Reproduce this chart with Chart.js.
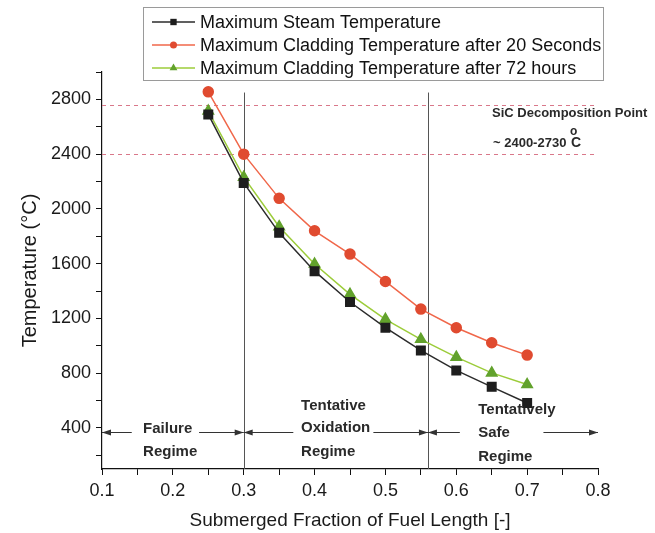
<!DOCTYPE html>
<html>
<head>
<meta charset="utf-8">
<title>Temperature vs submerged fraction</title>
<script src="https://cdn.jsdelivr.net/npm/chart.js@4.4.1/dist/chart.umd.min.js"></script>
<style>
  html, body { margin: 0; padding: 0; background: #fff; }
  #wrap { width: 655px; height: 533px; }
</style>
</head>
<body>
<div id="wrap"><canvas id="myChart" width="655" height="533"></canvas></div>
<script>
// submerged fraction of fuel length (x) and temperatures in degC
var fraction   = [0.25, 0.30, 0.35, 0.40, 0.45, 0.50, 0.55, 0.60, 0.65, 0.70];
var steamTemp  = [2690, 2190, 1825, 1545, 1320, 1132, 966, 820, 700, 582];
var clad20s    = [2855, 2400, 2077, 1840, 1670, 1470, 1268, 1132, 1022, 932];
var clad72h    = [2715, 2232, 1870, 1597, 1376, 1193, 1047, 917, 802, 717];

var seriesNames = [
    "Maximum Steam Temperature",
    "Maximum Cladding Temperature after 20 Seconds",
    "Maximum Cladding Temperature after 72 hours"
];

// axis ticks (labelled ones), minor ticks sit half way between
var xTickLabels = [0.1, 0.2, 0.3, 0.4, 0.5, 0.6, 0.7, 0.8];
var yTickLabels = [400, 800, 1200, 1600, 2000, 2400, 2800];

// SiC decomposition band and regime boundaries
var sicLimits    = [2400, 2760];
var regimeBounds = [0.30, 0.56];
var regimeTop    = 2850;
var arrowLevel   = 370;
// [from, to, which end has the head]
var arrowSpans = [
    [0.100, 0.142, "left"],
    [0.237, 0.300, "right"],
    [0.300, 0.370, "left"],
    [0.483, 0.560, "right"],
    [0.560, 0.605, "left"],
    [0.723, 0.800, "right"]
];
var regimeText = [
    { x: 0.158, lines: [["Failure", 429], ["Regime", 452]] },
    { x: 0.381, lines: [["Tentative", 406], ["Oxidation", 428], ["Regime", 452]] },
    { x: 0.631, lines: [["Tentatively", 410], ["Safe", 433], ["Regime", 457]] }
];

var FONT = "'Liberation Sans', Arial, sans-serif";

var annotations = {
    id: 'annotations',
    beforeDatasetsDraw: function(chart) {
        var ctx = chart.ctx;
        var xs = chart.scales.x, ys = chart.scales.y;
        ctx.save();

        // SiC limits
        ctx.strokeStyle = '#d9788a';
        ctx.lineWidth = 1;
        ctx.setLineDash([4, 4]);
        sicLimits.forEach(function(v) {
            var y = Math.round(ys.getPixelForValue(v)) + 0.5;
            ctx.beginPath();
            ctx.moveTo(xs.getPixelForValue(0.1), y);
            ctx.lineTo(xs.getPixelForValue(0.8), y);
            ctx.stroke();
        });
        ctx.setLineDash([]);

        // regime boundaries
        ctx.strokeStyle = '#555';
        regimeBounds.forEach(function(v) {
            var x = Math.round(xs.getPixelForValue(v)) + 0.5;
            ctx.beginPath();
            ctx.moveTo(x, ys.getPixelForValue(regimeTop));
            ctx.lineTo(x, ys.bottom);
            ctx.stroke();
        });

        // arrows
        ctx.strokeStyle = '#333';
        ctx.fillStyle = '#333';
        var ay = Math.round(ys.getPixelForValue(arrowLevel)) + 0.5;
        arrowSpans.forEach(function(a) {
            var x1 = xs.getPixelForValue(a[0]), x2 = xs.getPixelForValue(a[1]);
            ctx.beginPath();
            ctx.moveTo(x1, ay);
            ctx.lineTo(x2, ay);
            ctx.stroke();
            var hx = a[2] === 'left' ? x1 : x2;
            var d = a[2] === 'left' ? 9 : -9;
            ctx.beginPath();
            ctx.moveTo(hx, ay);
            ctx.lineTo(hx + d, ay - 3);
            ctx.lineTo(hx + d, ay + 3);
            ctx.closePath();
            ctx.fill();
        });

        // regime labels
        ctx.fillStyle = '#2a2a2a';
        ctx.font = 'bold 15px ' + FONT;
        ctx.textBaseline = 'middle';
        ctx.textAlign = 'left';
        regimeText.forEach(function(r) {
            var x = xs.getPixelForValue(r.x);
            r.lines.forEach(function(l) { ctx.fillText(l[0], x, l[1]); });
        });

        // SiC label
        ctx.font = 'bold 13px ' + FONT;
        ctx.fillText("SiC Decomposition Point", 492, 113);
        var t = "~ 2400-2730 ";
        ctx.fillText(t, 493, 143);
        var w = ctx.measureText(t).width;
        ctx.font = 'bold 12px ' + FONT;
        ctx.fillText("o", 493 + w, 132);
        ctx.font = 'bold 14px ' + FONT;
        ctx.fillText("C", 493 + w + 1, 143);
        ctx.restore();
    },
    afterDraw: function(chart) {
        // boxed legend above the plot
        var ctx = chart.ctx;
        ctx.save();
        ctx.fillStyle = '#fff';
        ctx.fillRect(143.5, 7.5, 460, 73);
        ctx.strokeStyle = '#9a9a9a';
        ctx.lineWidth = 1;
        ctx.strokeRect(143.5, 7.5, 460, 73);
        var rows = [22, 45, 68];
        ctx.font = '18px ' + FONT;
        ctx.textBaseline = 'middle';
        chart.data.datasets.forEach(function(ds, i) {
            var y = rows[i];
            ctx.strokeStyle = ds.borderColor;
            ctx.lineWidth = 1.5;
            ctx.beginPath();
            ctx.moveTo(152, y);
            ctx.lineTo(195, y);
            ctx.stroke();
            ctx.fillStyle = ds.pointBackgroundColor;
            ctx.strokeStyle = ds.pointBackgroundColor;
            Chart.helpers.drawPoint(ctx, {
                pointStyle: ds.pointStyle,
                radius: ds.pointStyle === 'circle' ? 3.5 : 4.5,
                rotation: 0,
                borderWidth: 0
            }, 173.5, y);
            ctx.fillStyle = '#111';
            ctx.fillText(ds.label, 200, y + 1);
        });
        ctx.restore();
    }
};

function buildTicks(labels, step) {
    var out = [];
    for (var i = 0; i < labels.length; i++) {
        out.push(labels[i]);
        if (i < labels.length - 1) out.push(Math.round((labels[i] + step) * 1000) / 1000);
    }
    return out;
}

var ctx = document.getElementById('myChart').getContext('2d');

var myChart = new Chart(ctx, {
    type: 'line',
    data: {
        datasets: [
            {
                label: seriesNames[0],
                data: fraction.map(function(x, i) { return { x: x, y: steamTemp[i] }; }),
                borderColor: '#2b2b2b',
                pointBackgroundColor: '#1e1e1e',
                pointBorderColor: '#1e1e1e',
                pointStyle: 'rect',
                pointRadius: 6,
                borderWidth: 1.5
            },
            {
                label: seriesNames[1],
                data: fraction.map(function(x, i) { return { x: x, y: clad20s[i] }; }),
                borderColor: '#f0674a',
                pointBackgroundColor: '#e04b30',
                pointBorderColor: '#e04b30',
                pointStyle: 'circle',
                pointRadius: 5,
                borderWidth: 1.5
            },
            {
                label: seriesNames[2],
                data: fraction.map(function(x, i) { return { x: x, y: clad72h[i] }; }),
                borderColor: '#9ccc3a',
                pointBackgroundColor: '#62a22c',
                pointBorderColor: '#62a22c',
                pointStyle: 'triangle',
                pointRadius: 6,
                borderWidth: 1.5
            }
        ]
    },
    options: {
        responsive: false,
        animation: false,
        devicePixelRatio: 1,
        layout: { padding: { top: 72, right: 57, left: 0, bottom: 0 } },
        plugins: {
            legend: { display: false },
            tooltip: { enabled: false }
        },
        scales: {
            x: {
                type: 'linear',
                min: 0.1,
                max: 0.8,
                afterBuildTicks: function(s) {
                    s.ticks = buildTicks(xTickLabels, 0.05).map(function(v) { return { value: v }; });
                },
                afterFit: function(s) { s.height = 64; },
                border: { display: true, color: '#111', width: 1.2 },
                grid: { drawOnChartArea: false, drawTicks: true, tickLength: 6, tickColor: '#111' },
                ticks: {
                    color: '#1a1a1a',
                    font: { family: FONT, size: 18 },
                    padding: 5,
                    maxRotation: 0,
                    autoSkip: false,
                    callback: function(v) {
                        return xTickLabels.indexOf(Math.round(v * 1000) / 1000) >= 0 ? v.toFixed(1) : '';
                    }
                },
                title: {
                    display: true,
                    text: 'Submerged Fraction of Fuel Length [-]',
                    color: '#1a1a1a',
                    font: { family: FONT, size: 19 },
                    padding: { top: 0, bottom: 1 }
                }
            },
            y: {
                min: 100,
                max: 3000,
                afterBuildTicks: function(s) {
                    var t = [200].concat(buildTicks(yTickLabels, 200), [3000]);
                    s.ticks = t.map(function(v) { return { value: v }; });
                },
                afterFit: function(s) { s.width = 102; },
                border: { display: true, color: '#111', width: 1.2 },
                grid: { drawOnChartArea: false, drawTicks: true, tickLength: 6, tickColor: '#111' },
                ticks: {
                    color: '#1a1a1a',
                    font: { family: FONT, size: 18 },
                    padding: 5,
                    autoSkip: false,
                    callback: function(v) {
                        return yTickLabels.indexOf(v) >= 0 ? String(v) : '';
                    }
                },
                title: {
                    display: true,
                    text: 'Temperature (°C)',
                    color: '#1a1a1a',
                    font: { family: FONT, size: 20 },
                    padding: { top: 18, bottom: 0 }
                }
            }
        }
    },
    plugins: [annotations]
});
</script>
</body>
</html>
